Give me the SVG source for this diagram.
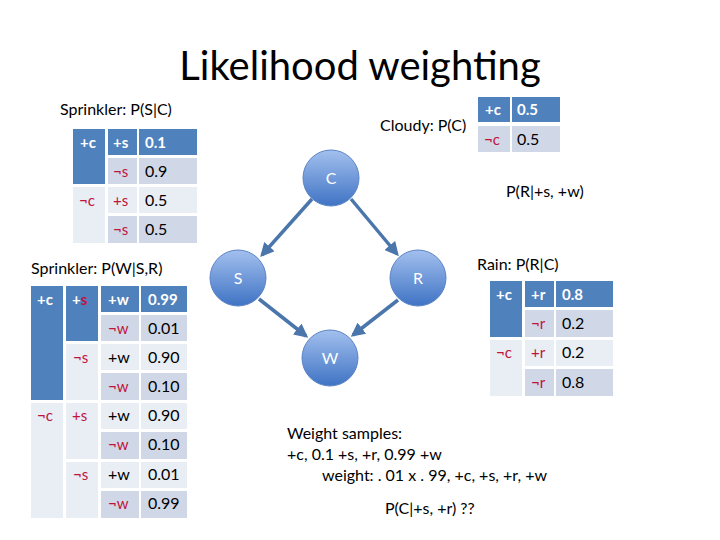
<svg xmlns="http://www.w3.org/2000/svg" width="720" height="540" viewBox="0 0 720 540">
<style>
text{font-family:Lato,"Open Sans",sans-serif;}
.t{font-size:16px;fill:#000}
.h{fill:#4F81BD}.d{fill:#D0D8E8}.l{fill:#E9EDF4}
.w{fill:#fff;font-size:15px;font-weight:bold}
.r{fill:#C0143C;font-size:15px}
.k{fill:#000;font-size:16px}
.n{fill:#fff;font-size:16px;text-anchor:middle}
.e{stroke:#4A76AC;stroke-width:3.5;fill:none;marker-end:url(#a)}
</style>
<defs>
<linearGradient id="g" x1="0" y1="0" x2="0" y2="1"><stop offset="0" stop-color="#A3C0EE"/><stop offset="1" stop-color="#3F73C4"/></linearGradient>
<marker id="a" viewBox="0 0 10 10" refX="8" refY="5" markerWidth="4" markerHeight="4" orient="auto"><path d="M0,0L10,5L0,10z" fill="#4A76AC"/></marker>
</defs>
<rect width="720" height="540" fill="#fff"/>
<text x="360" y="80" text-anchor="middle" style="font-size:40px">Likelihood weighting</text>

<g id="connectors">
<line class="e" x1="312" y1="199" x2="262" y2="255"/>
<line class="e" x1="351" y1="199" x2="397" y2="254"/>
<line class="e" x1="259" y1="299" x2="306" y2="336"/>
<line class="e" x1="398" y1="300" x2="353" y2="335"/>
</g>
<g id="nodeC"><circle cx="331" cy="178" r="28" fill="url(#g)" stroke="#5B84C4"/><text class="n" x="331" y="184">C</text></g>
<g id="nodeS"><circle cx="238" cy="278" r="28" fill="url(#g)" stroke="#5B84C4"/><text class="n" x="238" y="284">S</text></g>
<g id="nodeR"><circle cx="418" cy="278" r="28" fill="url(#g)" stroke="#5B84C4"/><text class="n" x="418" y="284">R</text></g>
<g id="nodeW"><circle cx="330" cy="358" r="28" fill="url(#g)" stroke="#5B84C4"/><text class="n" x="330" y="364">W</text></g>

<g id="tableSC">
<text class="t" x="60" y="115">Sprinkler: P(S|C)</text>
<rect class="h" x="73" y="129" width="32" height="55"/>
<rect class="l" x="73" y="187" width="32" height="56"/>
<rect class="h" x="108" y="129" width="29" height="26"/><rect class="h" x="139" y="129" width="58" height="26"/>
<rect class="d" x="108" y="158" width="29" height="26"/><rect class="d" x="139" y="158" width="58" height="26"/>
<rect class="l" x="108" y="187" width="29" height="26"/><rect class="l" x="139" y="187" width="58" height="26"/>
<rect class="d" x="108" y="216" width="29" height="27"/><rect class="d" x="139" y="216" width="58" height="27"/>
<text class="w" x="80" y="148">+c</text><text class="w" x="113" y="148">+s</text><text class="w" x="145" y="148">0.1</text>
<text class="r" x="113" y="177">¬s</text><text class="k" x="145" y="177">0.9</text>
<text class="r" x="79" y="206">¬c</text><text class="r" x="113" y="206">+s</text><text class="k" x="145" y="206">0.5</text>
<text class="r" x="113" y="235">¬s</text><text class="k" x="145" y="235">0.5</text>
</g>

<g id="tableW">
<text class="t" x="31" y="274">Sprinkler: P(W|S,R)</text>
<rect class="h" x="31" y="286" width="32" height="114"/>
<rect class="l" x="31" y="403" width="32" height="115"/>
<rect class="h" x="66" y="286" width="32" height="55"/>
<rect class="l" x="66" y="344" width="32" height="56"/>
<rect class="l" x="66" y="403" width="32" height="56"/>
<rect class="l" x="66" y="462" width="32" height="56"/>
<rect class="h" x="101" y="286" width="38" height="26"/><rect class="h" x="141" y="286" width="46" height="26"/>
<rect class="d" x="101" y="315" width="38" height="26"/><rect class="d" x="141" y="315" width="46" height="26"/>
<rect class="l" x="101" y="344" width="38" height="26"/><rect class="l" x="141" y="344" width="46" height="26"/>
<rect class="d" x="101" y="373" width="38" height="27"/><rect class="d" x="141" y="373" width="46" height="27"/>
<rect class="l" x="101" y="403" width="38" height="26"/><rect class="l" x="141" y="403" width="46" height="26"/>
<rect class="d" x="101" y="432" width="38" height="27"/><rect class="d" x="141" y="432" width="46" height="27"/>
<rect class="l" x="101" y="462" width="38" height="26"/><rect class="l" x="141" y="462" width="46" height="26"/>
<rect class="d" x="101" y="491" width="38" height="27"/><rect class="d" x="141" y="491" width="46" height="27"/>
<text class="w" x="37" y="305">+c</text><text class="w" x="72" y="305">+<tspan fill="#C0143C">s</tspan></text><text class="w" x="108" y="305">+w</text><text class="w" x="148" y="305">0.99</text>
<text class="r" x="108" y="334">¬w</text><text class="k" x="148" y="334">0.01</text>
<text class="r" x="73" y="363">¬s</text><text class="k" x="108" y="363">+w</text><text class="k" x="148" y="363">0.90</text>
<text class="r" x="108" y="392">¬w</text><text class="k" x="148" y="392">0.10</text>
<text class="r" x="37" y="421">¬c</text><text class="r" x="72" y="421">+s</text><text class="k" x="108" y="421">+w</text><text class="k" x="148" y="421">0.90</text>
<text class="r" x="108" y="450">¬w</text><text class="k" x="148" y="450">0.10</text>
<text class="r" x="73" y="480">¬s</text><text class="k" x="108" y="480">+w</text><text class="k" x="148" y="480">0.01</text>
<text class="r" x="108" y="509">¬w</text><text class="k" x="148" y="509">0.99</text>
</g>

<g id="tableC">
<text class="t" x="380" y="131">Cloudy: P(C)</text>
<rect class="h" x="478" y="97" width="32" height="25"/><rect class="h" x="512" y="97" width="48" height="25"/>
<rect class="d" x="478" y="126" width="32" height="26"/><rect class="d" x="512" y="126" width="48" height="26"/>
<text class="w" x="485" y="115">+c</text><text class="w" x="517" y="115">0.5</text>
<text class="r" x="484" y="145">¬c</text><text class="k" x="517" y="145">0.5</text>
</g>

<text class="t" x="506" y="197">P(R|+s, +w)</text>

<g id="tableR">
<text class="t" x="477" y="270">Rain: P(R|C)</text>
<rect class="h" x="490" y="281" width="32" height="56"/>
<rect class="l" x="490" y="340" width="32" height="56"/>
<rect class="h" x="525" y="281" width="29" height="26"/><rect class="h" x="556" y="281" width="57" height="26"/>
<rect class="d" x="525" y="310" width="29" height="27"/><rect class="d" x="556" y="310" width="57" height="27"/>
<rect class="l" x="525" y="340" width="29" height="26"/><rect class="l" x="556" y="340" width="57" height="26"/>
<rect class="d" x="525" y="369" width="29" height="27"/><rect class="d" x="556" y="369" width="57" height="27"/>
<text class="w" x="496" y="300">+c</text><text class="w" x="531" y="300">+r</text><text class="w" x="562" y="300">0.8</text>
<text class="r" x="531" y="329">¬r</text><text class="k" x="562" y="329">0.2</text>
<text class="r" x="496" y="358">¬c</text><text class="r" x="531" y="358">+r</text><text class="k" x="562" y="358">0.2</text>
<text class="r" x="531" y="388">¬r</text><text class="k" x="562" y="388">0.8</text>
</g>

<text class="t" x="287" y="439">Weight samples:</text>
<text class="t" x="287" y="460">+c, 0.1 +s, +r, 0.99 +w</text>
<text class="t" x="322" y="481">weight: . 01 x . 99, +c, +s, +r, +w</text>
<text class="t" x="385" y="514">P(C|+s, +r) ??</text>
</svg>
